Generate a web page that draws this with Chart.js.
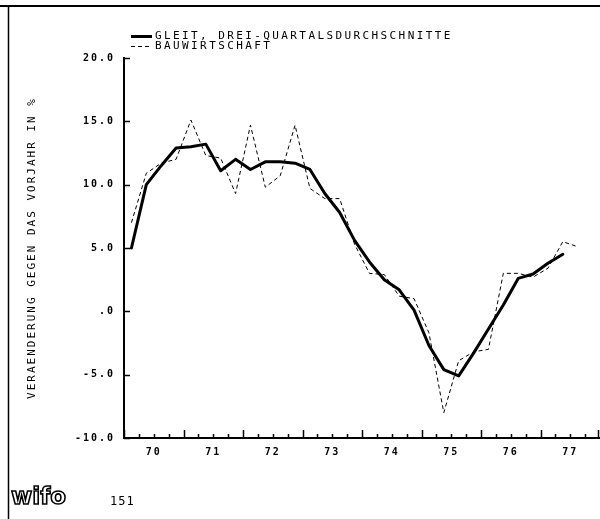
<!DOCTYPE html>
<html><head><meta charset="utf-8">
<script src="https://cdn.jsdelivr.net/npm/chart.js@4"></script>
<style>html,body{margin:0;padding:0;background:#fff}#wrap{width:600px;height:519px;position:relative}</style>
</head><body><div id="wrap"><canvas id="c" width="600" height="519"></canvas></div>
<script>
// x-axis year labels (quarterly data from 1970 Q1)
const years = ['70','71','72','73','74','75','76','77'];
// y ticks and their labels
const yTicks = [-10, -5, 0, 5, 10, 15, 20];
const yTickLabels = ['-10.0', '-5.0', '.0', '5.0', '10.0', '15.0', '20.0'];
// Bauwirtschaft, change against previous year in % (quarterly, 1970 Q1 ...)
const bauwirtschaft = [7.0, 10.9, 11.7, 12.0, 15.1, 12.3, 12.1, 9.3, 14.7, 9.8, 10.7, 14.7,
  9.7, 8.9, 8.9, 5.3, 3.0, 2.9, 1.2, 1.0, -1.7, -8.0, -3.9, -3.2, -3.0, 3.0, 3.0, 2.7, 3.4, 5.5, 5.1];
// gleitende Drei-Quartalsdurchschnitte (quarterly, 1970 Q1 ...)
const gleit = [5.0, 10.0, 11.5, 12.9, 13.0, 13.2, 11.1, 12.0, 11.2, 11.8, 11.8, 11.7,
  11.2, 9.3, 7.8, 5.6, 3.9, 2.5, 1.7, 0.1, -2.7, -4.6, -5.1, -3.3, -1.4, 0.5, 2.6, 2.95, 3.8, 4.5];
const seriesLabels = ['GLEIT, DREI-QUARTALSDURCHSCHNITTE', 'BAUWIRTSCHAFT'];
const yTitle = 'VERAENDERUNG GEGEN DAS VORJAHR IN %';
const footNumber = '151';
const logoText = 'wifo';

const FONT = 'DejaVu Sans Mono';
const quarterCount = years.length * 4;
const toPoints = arr => arr.map((v, i) => ({x: i + 0.5, y: v}));

const deco = {
  id: 'deco',
  beforeDraw(chart) {
    chart.ctx.letterSpacing = '2px';
  },
  afterDraw(chart) {
    const ctx = chart.ctx;
    const xs = chart.scales.x, ys = chart.scales.y;
    const area = chart.chartArea;
    ctx.save();
    ctx.strokeStyle = '#000';
    ctx.fillStyle = '#000';
    // inward tick marks
    ctx.lineWidth = 1.5;
    for (let i = 0; i <= quarterCount; i++) {
      const px = Math.min(Math.round(xs.getPixelForValue(i)) + 0.5, 598.5);
      const len = i % 4 === 0 ? 8 : 4;
      ctx.beginPath(); ctx.moveTo(px, area.bottom); ctx.lineTo(px, area.bottom - len); ctx.stroke();
    }
    yTicks.forEach(v => {
      const py = Math.round(ys.getPixelForValue(v)) + 0.5;
      ctx.beginPath(); ctx.moveTo(area.left, py); ctx.lineTo(area.left + 6, py); ctx.stroke();
    });
    // frame lines
    ctx.lineWidth = 2;
    ctx.beginPath(); ctx.moveTo(0, 6); ctx.lineTo(600, 6); ctx.stroke();
    ctx.lineWidth = 1.5;
    ctx.beginPath(); ctx.moveTo(8.5, 6); ctx.lineTo(8.5, 519); ctx.stroke();
    // legend
    ctx.font = '11px "' + FONT + '"';
    ctx.letterSpacing = '2.4px';
    ctx.textBaseline = 'middle';
    ctx.textAlign = 'left';
    const rows = [36, 46];
    chart.data.datasets.forEach((ds, k) => {
      const y = rows[k] + 0.5;
      ctx.lineWidth = ds.borderWidth;
      ctx.setLineDash(ds.borderDash || []);
      ctx.beginPath(); ctx.moveTo(131, y); ctx.lineTo(152, y); ctx.stroke();
      ctx.setLineDash([]);
      ctx.fillText(ds.label, 155, rows[k]);
    });
    // logo and number
    ctx.letterSpacing = '0px';
    ctx.font = 'bold 23px "DejaVu Sans"';
    ctx.textBaseline = 'alphabetic';
    ctx.lineWidth = 1.6;
    ctx.fillStyle = '#fff';
    ctx.fillText(logoText, 11, 504);
    ctx.strokeText(logoText, 11, 504);
    ctx.fillStyle = '#000';
    ctx.font = '12px "' + FONT + '"';
    ctx.letterSpacing = '1px';
    ctx.fillText(footNumber, 110, 505);
    ctx.restore();
  }
};

new Chart(document.getElementById('c'), {
  type: 'line',
  data: {
    datasets: [
      {label: seriesLabels[0], data: toPoints(gleit), borderColor: '#000', borderWidth: 3,
       pointRadius: 0, tension: 0, borderJoinStyle: 'round', borderCapStyle: 'round'},
      {label: seriesLabels[1], data: toPoints(bauwirtschaft), borderColor: '#000', borderWidth: 1,
       borderDash: [4, 3], pointRadius: 0, tension: 0}
    ]
  },
  options: {
    responsive: false, animation: false, devicePixelRatio: 1,
    layout: {padding: {top: 58, left: 0, right: 0, bottom: 0}},
    plugins: {legend: {display: false}, tooltip: {enabled: false}},
    scales: {
      x: {
        type: 'linear', min: 0, max: quarterCount,
        afterBuildTicks(s) { s.ticks = Array.from({length: quarterCount + 1}, (_, i) => ({value: i})); },
        afterFit(s) { s.height = 81; s.paddingLeft = 0; s.paddingRight = 0; },
        grid: {display: false, drawTicks: false},
        border: {display: true, color: '#000', width: 2},
        ticks: {autoSkip: false, maxRotation: 0, minRotation: 0, padding: 8, color: '#000',
          font: {family: FONT, size: 10, weight: 'bold'},
          callback: v => (v % 4 === 2 ? years[(v - 2) / 4] : '')}
      },
      y: {
        min: -10, max: 20,
        afterBuildTicks(s) { s.ticks = yTicks.map(v => ({value: v})); },
        afterFit(s) { s.width = 124; },
        grid: {display: false, drawTicks: false},
        border: {display: true, color: '#000', width: 2},
        ticks: {padding: 9, color: '#000', font: {family: FONT, size: 10, weight: 'bold'},
          callback: v => yTickLabels[yTicks.indexOf(v)]},
        title: {display: true, text: yTitle, color: '#000', padding: {top: 26, bottom: 0},
          font: {family: FONT, size: 11}}
      }
    }
  },
  plugins: [deco]
});
</script>
</body></html>
